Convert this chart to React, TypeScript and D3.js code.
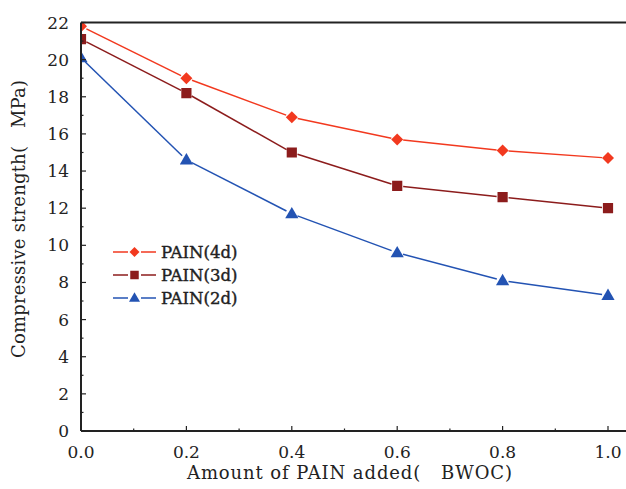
import React from "react";
import * as d3 from "d3";

const dosage = [0.0, 0.2, 0.4, 0.6, 0.8, 1.0];
const strength4d = [21.8, 19.0, 16.9, 15.7, 15.1, 14.7];
const strength3d = [21.1, 18.2, 15.0, 13.2, 12.6, 12.0];
const strength2d = [20.1, 14.6, 11.7, 9.6, 8.1, 7.3];
const seriesNames = ["PAIN(4d)", "PAIN(3d)", "PAIN(2d)"];
const xTicks = [0.0, 0.2, 0.4, 0.6, 0.8, 1.0];
const yTicks = [0, 2, 4, 6, 8, 10, 12, 14, 16, 18, 20, 22];

const W = 626;
const H = 489;
const FONT = "'DejaVu Serif', 'Liberation Serif', serif";

type Shape = "diamond" | "square" | "triangle";
const series: { name: string; values: number[]; color: string; shape: Shape }[] = [
  { name: seriesNames[0], values: strength4d, color: "#f2391f", shape: "diamond" },
  { name: seriesNames[1], values: strength3d, color: "#8c1c1c", shape: "square" },
  { name: seriesNames[2], values: strength2d, color: "#2353b3", shape: "triangle" },
];

const x = d3.scaleLinear().domain([0, 1]).range([81, 608]);
const y = d3.scaleLinear().domain([0, 22]).range([431, 22.5]);

function markerPath(shape: Shape, r: number) {
  if (shape === "diamond") return `M0,${-r}L${r},0L0,${r}L${-r},0Z`;
  if (shape === "square") {
    const s = r * 0.85;
    return `M${-s},${-s}H${s}V${s}H${-s}Z`;
  }
  const h = r * 1.9;
  return `M0,${-h * 0.6}L${r * 1.1},${h * 0.4}L${-r * 1.1},${h * 0.4}Z`;
}

function Marker({ cx, cy, shape, color, r }: { cx: number; cy: number; shape: Shape; color: string; r: number }) {
  return <path d={markerPath(shape, r)} transform={`translate(${cx},${cy})`} fill={color} />;
}

// connecting segments stop short of each marker, leaving a small gap
function gappedSegments(values: number[], gap: number) {
  const segs: [number, number, number, number][] = [];
  for (let i = 0; i < values.length - 1; i++) {
    const x1 = x(dosage[i]), y1 = y(values[i]);
    const x2 = x(dosage[i + 1]), y2 = y(values[i + 1]);
    const len = Math.hypot(x2 - x1, y2 - y1);
    const ux = (x2 - x1) / len, uy = (y2 - y1) / len;
    segs.push([x1 + ux * gap, y1 + uy * gap, x2 - ux * gap, y2 - uy * gap]);
  }
  return segs;
}

export default function App() {
  const xMinor = d3.range(0.1, 1.0, 0.2);
  const yMinor = d3.range(1, 22, 2);
  const legendY = [252, 275, 298];
  return (
    <svg width={W} height={H} style={{ position: "absolute", left: 0, top: 0, background: "#fff" }}>
      <defs>
        <clipPath id="plot-area">
          <rect x={x(0)} y={y(22)} width={W - x(0)} height={y(0) - y(22)} />
        </clipPath>
      </defs>

      {/* series */}
      <g clipPath="url(#plot-area)">
        {series.map((s) => (
          <g key={s.name}>
            {gappedSegments(s.values, 6).map((sg, i) => (
              <line key={i} x1={sg[0]} y1={sg[1]} x2={sg[2]} y2={sg[3]} stroke={s.color} strokeWidth={1.5} />
            ))}
            {s.values.map((v, i) => (
              <Marker key={i} cx={x(dosage[i])} cy={y(v)} shape={s.shape} color={s.color} r={6} />
            ))}
          </g>
        ))}
      </g>

      {/* frame */}
      <line x1={x(0)} x2={W} y1={y(22)} y2={y(22)} stroke="#222" strokeWidth={2} />
      <line x1={x(0)} x2={W} y1={y(0)} y2={y(0)} stroke="#222" strokeWidth={2} />
      <line x1={x(0)} x2={x(0)} y1={y(22)} y2={y(0)} stroke="#222" strokeWidth={2} />

      {/* x ticks */}
      {xTicks.map((t) => (
        <g key={"xt" + t}>
          <line x1={x(t)} x2={x(t)} y1={y(0)} y2={y(0) - 5} stroke="#222" strokeWidth={1.2} />
          <text x={x(t)} y={458} textAnchor="middle" fontFamily={FONT} fontSize={17} fill="#222">
            {t.toFixed(1)}
          </text>
        </g>
      ))}
      {xMinor.map((t) => (
        <line key={"xm" + t} x1={x(t)} x2={x(t)} y1={y(0)} y2={y(0) - 2.5} stroke="#222" strokeWidth={1.2} />
      ))}

      {/* y ticks */}
      {yTicks.map((t) => (
        <g key={"yt" + t}>
          <line x1={x(0)} x2={x(0) + 5} y1={y(t)} y2={y(t)} stroke="#222" strokeWidth={1.2} />
          <text x={69} y={y(t) + 6} textAnchor="end" fontFamily={FONT} fontSize={17} fill="#222">
            {t}
          </text>
        </g>
      ))}
      {yMinor.map((t) => (
        <line key={"ym" + t} x1={x(0)} x2={x(0) + 2.5} y1={y(t)} y2={y(t)} stroke="#222" strokeWidth={1.2} />
      ))}

      {/* axis titles */}
      <text
        x={187}
        y={479}
        fontFamily={FONT}
        fontSize={18}
        fill="#222"
        textLength={325}
        lengthAdjust="spacing"
        style={{ whiteSpace: "pre" }}
      >
        {"Amount of PAIN added(   BWOC)"}
      </text>
      <text
        transform="translate(25,358) rotate(-90)"
        fontFamily={FONT}
        fontSize={18}
        fill="#222"
        textLength={278}
        lengthAdjust="spacing"
        style={{ whiteSpace: "pre" }}
      >
        {"Compressive strength(   MPa)"}
      </text>

      {/* legend */}
      {series.map((s, i) => (
        <g key={"lg" + s.name}>
          <line x1={113} x2={128} y1={legendY[i]} y2={legendY[i]} stroke={s.color} strokeWidth={1.5} />
          <line x1={141} x2={156} y1={legendY[i]} y2={legendY[i]} stroke={s.color} strokeWidth={1.5} />
          <Marker cx={134.5} cy={legendY[i]} shape={s.shape} color={s.color} r={5} />
          <text
            x={161}
            y={legendY[i] + 6}
            fontFamily={FONT}
            fontSize={16.5}
            fill="#222"
            stroke="#222"
            strokeWidth={0.4}
          >
            {s.name}
          </text>
        </g>
      ))}
    </svg>
  );
}
